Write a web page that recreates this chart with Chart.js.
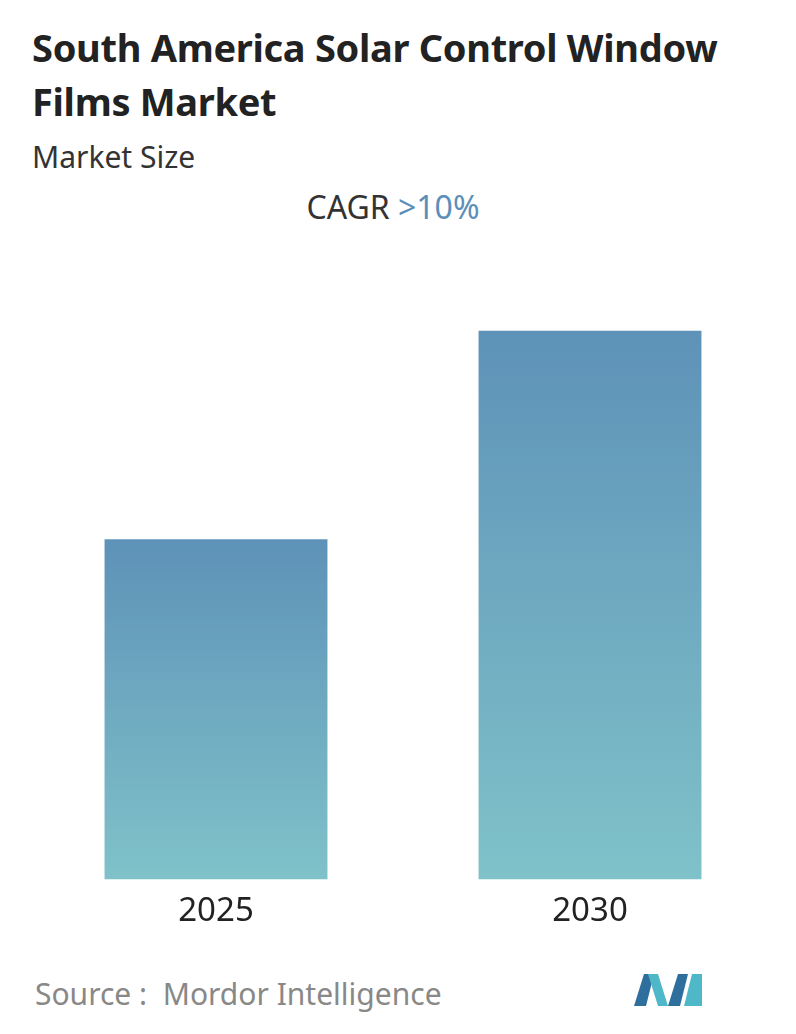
<!DOCTYPE html>
<html>
<head>
<meta charset="utf-8">
<script src="https://cdn.jsdelivr.net/npm/chart.js@4"></script>
<style>
  body { margin:0; width:796px; height:1034px; background:#fff; font-family:"Noto Sans", "Open Sans", sans-serif; position:relative; overflow:hidden; }
  h1 { position:absolute; left:32px; top:20px; margin:0; font-size:38px; line-height:54px; font-weight:700; color:#222; letter-spacing:-0.3px; }
  .sub { position:absolute; left:32px; top:136px; font-size:30px; color:#333; }
  .cagr { position:absolute; left:0; width:786px; top:185px; text-align:center; font-size:32px; color:#333; }
  .cagr span { color:#5b8fba; }
  .src { position:absolute; left:35px; top:973px; font-size:30px; color:#888; }
  #wrap { position:absolute; left:0; top:253px; width:796px; height:690px; }
  svg { position:absolute; left:634px; top:972px; }
</style>
</head>
<body>
<h1>South America Solar Control Window<br>Films Market</h1>
<div class="sub">Market Size</div>
<div class="cagr">CAGR <span>&gt;10%</span></div>
<div id="wrap"><canvas id="c"></canvas></div>
<div class="src">Source :&nbsp; Mordor Intelligence</div>
<svg width="68" height="36" viewBox="0 0 68 36">
  <polygon points="0,34 10,2 20,2 12,34" fill="#2f6f9e"/>
  <polygon points="14,2 24,2 34,34 24,34" fill="#4fb8c8"/>
  <polygon points="34,34 44,2 54,2 46,34" fill="#2f6f9e"/>
  <polygon points="50,34 58,2 68,2 68,34" fill="#4fb8c8"/>
</svg>
<script>
const years = ["2025", "2030"];
const sizes = [62, 100];

const ctx = document.getElementById('c').getContext('2d');
new Chart(ctx, {
  type: 'bar',
  data: {
    labels: years,
    datasets: [{
      data: sizes,
      backgroundColor: function(c) {
        const a = c.chart.chartArea;
        if (!a || c.raw === undefined) return '#6a9fc0';
        const top = c.chart.scales.y.getPixelForValue(c.raw);
        const g = c.chart.ctx.createLinearGradient(0, top, 0, a.bottom);
        g.addColorStop(0, '#5e92b8');
        g.addColorStop(1, '#7fc2c9');
        return g;
      },
      barPercentage: 0.596,
      categoryPercentage: 1
    }]
  },
  options: {
    responsive: true,
    maintainAspectRatio: false,
    animation: false,
    layout: { padding: { left: 29, right: 19, top: 23, bottom: 0 } },
    plugins: { legend: { display: false }, tooltip: { enabled: false } },
    scales: {
      y: { display: false, min: 0, max: 110 },
      x: {
        grid: { display: false, drawTicks: false },
        border: { display: false },
        ticks: { color: '#222', font: { size: 33, family: 'Noto Sans' }, padding: 12 }
      }
    }
  }
});
</script>
</body>
</html>
